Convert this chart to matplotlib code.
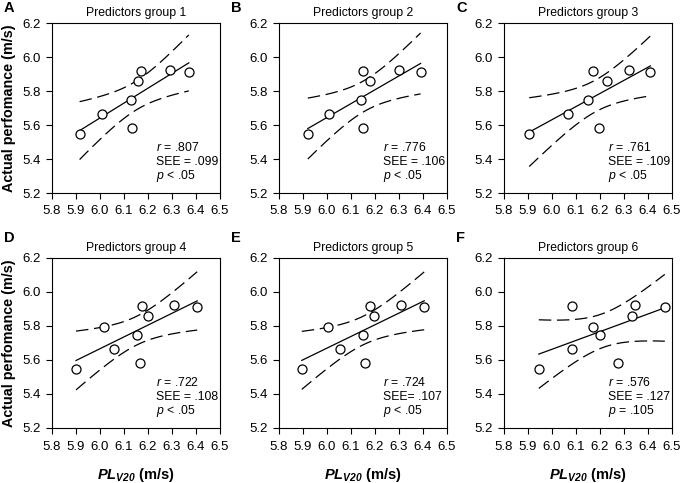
import numpy as np
import matplotlib
matplotlib.use('Agg')
import matplotlib.pyplot as plt

plt.rcParams['font.family'] = ['Liberation Sans', 'DejaVu Sans']
plt.rcParams['mathtext.fontset'] = 'custom'
plt.rcParams['mathtext.rm'] = 'Liberation Sans'
plt.rcParams['mathtext.it'] = 'Liberation Sans:italic'
plt.rcParams['mathtext.bf'] = 'Liberation Sans:bold'
plt.rcParams['mathtext.bfit'] = 'Liberation Sans:italic:bold'

# predicted PL_V20 (x) and actual performance (y) for each predictor group
x1 = [5.915, 6.01, 6.13, 6.135, 6.16, 6.17, 6.29, 6.37]
y1 = [5.55, 5.665, 5.75, 5.585, 5.86, 5.92, 5.925, 5.91]
x2 = [5.92, 6.01, 6.14, 6.15, 6.15, 6.18, 6.30, 6.39]
y2 = [5.55, 5.665, 5.75, 5.585, 5.92, 5.86, 5.925, 5.91]
x3 = [5.905, 6.065, 6.15, 6.17, 6.195, 6.23, 6.32, 6.41]
y3 = [5.55, 5.665, 5.75, 5.92, 5.585, 5.86, 5.925, 5.91]
x4 = [5.90, 6.015, 6.06, 6.155, 6.165, 6.175, 6.20, 6.31, 6.405]
y4 = [5.55, 5.795, 5.665, 5.75, 5.585, 5.92, 5.86, 5.925, 5.91]
x5 = [5.895, 6.005, 6.055, 6.15, 6.16, 6.18, 6.195, 6.31, 6.405]
y5 = [5.55, 5.795, 5.665, 5.75, 5.585, 5.92, 5.86, 5.925, 5.91]
x6 = [5.945, 6.085, 6.085, 6.17, 6.20, 6.275, 6.335, 6.345, 6.47]
y6 = [5.55, 5.92, 5.665, 5.795, 5.75, 5.585, 5.86, 5.925, 5.91]

letters = ['A', 'B', 'C', 'D', 'E', 'F']
r_vals = ['.807', '.776', '.761', '.722', '.724', '.576']
see_vals = ['SEE = .099', 'SEE = .106', 'SEE = .109', 'SEE = .108', 'SEE= .107', 'SEE = .127']
p_vals = ['< .05', '< .05', '< .05', '< .05', '< .05', '= .105']
t_crit = {8: 2.447, 9: 2.365}  # 95% two-sided t, df = n-2

xs = [x1, x2, x3, x4, x5, x6]
ys = [y1, y2, y3, y4, y5, y6]

fig = plt.figure(figsize=(6.85, 4.83), dpi=100)
W, H = 685.0, 483.0
lefts = [52, 279, 504]
tops = [23, 258]
letter_y = [8, 238]
pw, ph = 168, 170

for i in range(6):
    row, col = divmod(i, 3)
    l = lefts[col] / W
    b = 1 - (tops[row] + ph) / H
    ax = fig.add_axes([l, b, pw / W, ph / H])
    x = np.array(xs[i]); y = np.array(ys[i])
    n = len(x)
    # least squares line + 95% confidence band of the mean
    slope, icpt = np.polyfit(x, y, 1)
    xx = np.linspace(x.min(), x.max(), 100)
    yy = icpt + slope * xx
    resid = y - (icpt + slope * x)
    s = np.sqrt(np.sum(resid ** 2) / (n - 2))
    se = s * np.sqrt(1 / n + (xx - x.mean()) ** 2 / np.sum((x - x.mean()) ** 2))
    t = t_crit[n]
    ax.plot(xx, yy, color='black', lw=0.9)
    ax.plot(xx, yy + t * se, color='black', lw=0.9, ls=(0, (10, 4.5)))
    ax.plot(xx, yy - t * se, color='black', lw=0.9, ls=(0, (10, 4.5)))
    ax.plot(x, y, 'o', mfc='white', mec='black', ms=6.5, mew=0.9)

    ax.set_xlim(5.8, 6.5)
    ax.set_ylim(5.2, 6.2)
    ax.set_xticks(np.arange(5.8, 6.51, 0.1))
    ax.set_yticks(np.arange(5.2, 6.21, 0.2))
    ax.xaxis.set_major_formatter(matplotlib.ticker.FormatStrFormatter('%.1f'))
    ax.yaxis.set_major_formatter(matplotlib.ticker.FormatStrFormatter('%.1f'))
    ax.tick_params(direction='out', length=4, width=0.8, labelsize=9.5)
    ax.tick_params(axis='x', pad=5)
    ax.tick_params(axis='y', pad=4)
    for sp in ax.spines.values():
        sp.set_linewidth(0.8)
    ax.set_title('Predictors group %d' % (i + 1), fontsize=8.8, pad=5)
    ax.text(0.62, 0.245, r'$\mathit{r}$ = ' + r_vals[i], transform=ax.transAxes, fontsize=8.8)
    ax.text(0.62, 0.165, see_vals[i], transform=ax.transAxes, fontsize=8.8)
    ax.text(0.62, 0.085, r'$\mathit{p}$ ' + p_vals[i], transform=ax.transAxes, fontsize=8.8)
    fig.text((lefts[col] - 48) / W, 1 - letter_y[row] / H, letters[i],
             fontsize=10.5, fontweight='bold', va='center', ha='left')
    if col == 0:
        ax.set_ylabel('Actual perfomance (m/s)', fontsize=10.4, fontweight='bold', labelpad=5)
    if row == 1:
        ax.set_xlabel(r'$\mathbfit{PL}_{\mathbfit{V20}}$ (m/s)', fontsize=10.5,
                      fontweight='bold', labelpad=10)

fig.savefig('out.png', dpi=100)
